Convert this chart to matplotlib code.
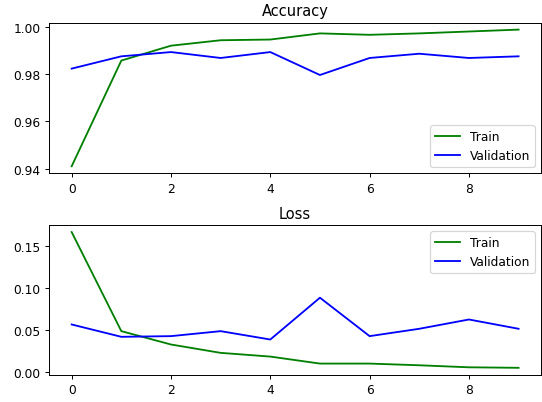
import matplotlib
matplotlib.use("Agg")
import matplotlib.pyplot as plt

epochs = list(range(10))

acc_train = [0.941, 0.9857, 0.992, 0.9943, 0.9946, 0.9972, 0.9966, 0.9972, 0.998, 0.9988]
acc_val = [0.9823, 0.9875, 0.9893, 0.9868, 0.9893, 0.9796, 0.9868, 0.9886, 0.9868, 0.9875]

loss_train = [0.166, 0.0487, 0.0329, 0.023, 0.0186, 0.0103, 0.0103, 0.0083, 0.0059, 0.0053]
loss_val = [0.0566, 0.042, 0.0428, 0.0487, 0.0388, 0.0883, 0.0428, 0.0515, 0.0625, 0.0515]

DPI = 88
fig = plt.figure(figsize=(542 / DPI, 403 / DPI), dpi=DPI)

# top panel: accuracy
ax1 = fig.add_axes([0.091, 0.568, 0.907, 0.373])
ax1.plot(epochs, acc_train, color='green', label='Train')
ax1.plot(epochs, acc_val, color='blue', label='Validation')
ax1.set_title("Accuracy", fontsize=12)
ax1.set_yticks([0.94, 0.96, 0.98, 1.00])
ax1.set_xticks([0, 2, 4, 6, 8])
ax1.legend(loc='lower right')

# bottom panel: loss
ax2 = fig.add_axes([0.091, 0.068, 0.907, 0.3705])
ax2.plot(epochs, loss_train, color='green', label='Train')
ax2.plot(epochs, loss_val, color='blue', label='Validation')
ax2.set_title("Loss", fontsize=12)
ax2.set_yticks([0.00, 0.05, 0.10, 0.15])
ax2.set_xticks([0, 2, 4, 6, 8])
ax2.legend(loc='upper right')

fig.savefig("out.png", dpi=DPI)
